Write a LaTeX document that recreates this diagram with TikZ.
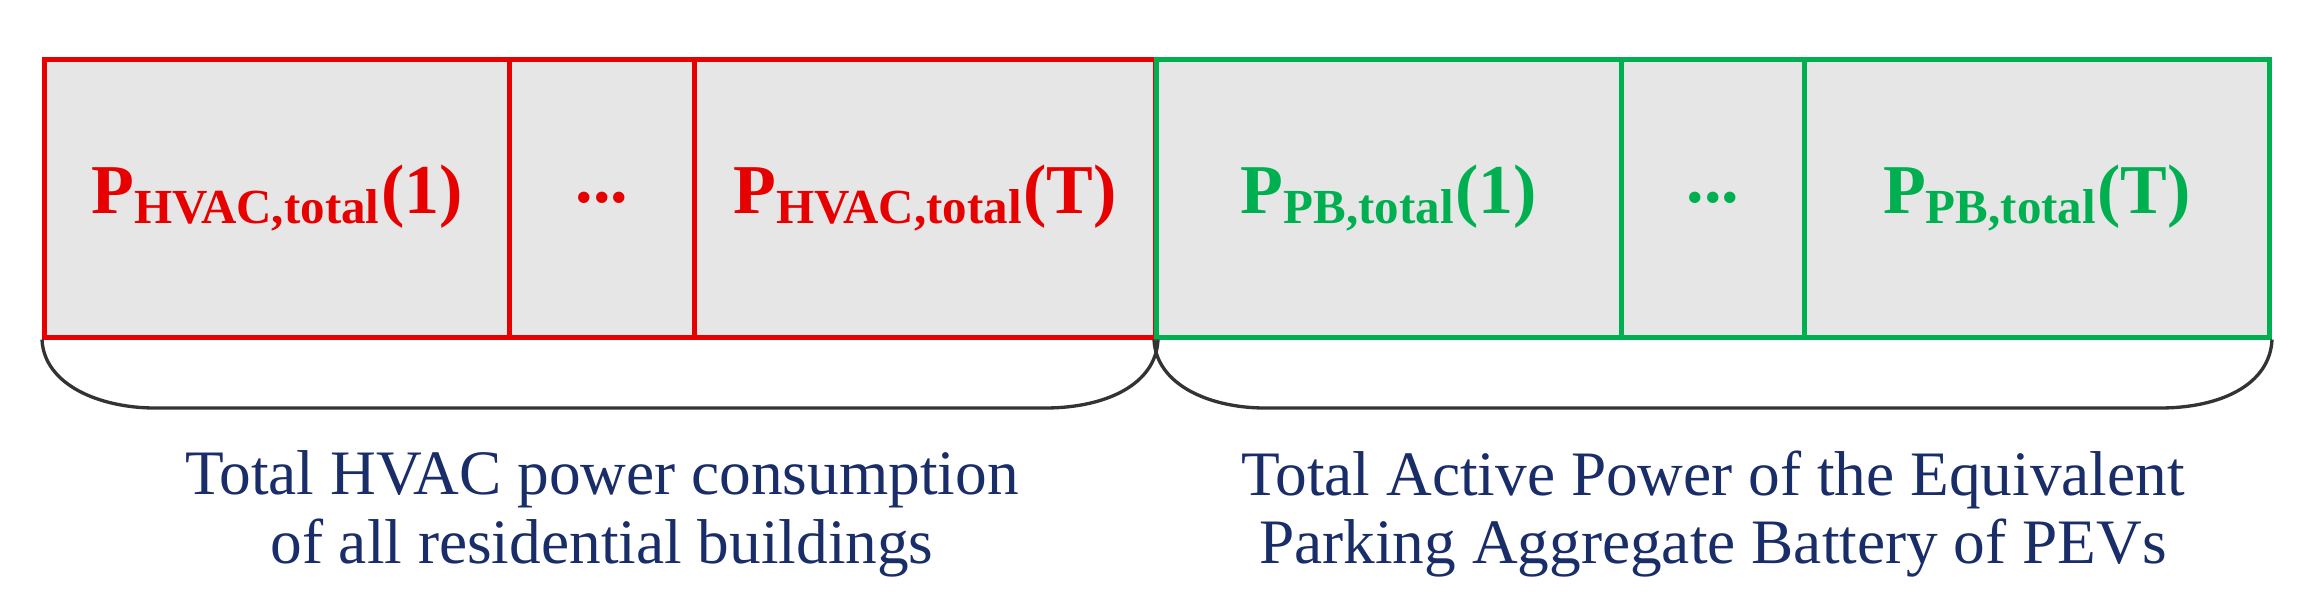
\documentclass[tikz,border=0pt]{standalone}
\usepackage{fontspec}
\setmainfont{Liberation Serif}
\definecolor{rd}{RGB}{230,0,0}
\definecolor{gn}{RGB}{0,176,80}
\definecolor{cellfill}{RGB}{230,230,230}
\definecolor{txt}{RGB}{25,45,105}
\begin{document}
\begin{tikzpicture}[x=0.3pt,y=-0.3pt,
  cell/.style={draw=#1,line width=1.5pt,fill=cellfill,inner sep=0pt,minimum height=278*0.3pt,text=#1,font=\fontsize{21}{24}\selectfont\bfseries},
  brace/.style={line width=1pt,black!80},
  captext/.style={text=txt,font=\fontsize{19}{20.5}\selectfont,align=center}]
\useasboundingbox (0,0) rectangle (2319,611);
\node[cell=rd,minimum width=465*0.3pt] (r1) at (277,198) {P\textsubscript{HVAC,total}(1)};
\node[cell=rd,minimum width=185*0.3pt] (r2) at (602,198) {...};
\node[cell=rd,minimum width=461*0.3pt] (r3) at (925,198) {P\textsubscript{HVAC,total}(T)};
\node[cell=gn,minimum width=465*0.3pt] (g1) at (1389,198) {P\textsubscript{PB,total}(1)};
\node[cell=gn,minimum width=184*0.3pt] (g2) at (1713,198) {...};
\node[cell=gn,minimum width=465*0.3pt] (g3) at (2037,198) {P\textsubscript{PB,total}(T)};
\draw[brace] (r1.south west) .. controls (44,385) and (100,408) .. (155,408) -- (1045,408) .. controls (1105,408) and (1156,385) .. (r3.south east);
\draw[brace] (g1.south west) .. controls (1156,385) and (1210,408) .. (1265,408) -- (2160,408) .. controls (2220,408) and (2270,385) .. (g3.south east);
\node[captext] (c1) at (602,514) {Total HVAC power consumption\\of all residential buildings};
\node[captext] (c2) at (1713,514) {Total Active Power of the Equivalent\\Parking Aggregate Battery of PEVs};
\end{tikzpicture}
\end{document}
